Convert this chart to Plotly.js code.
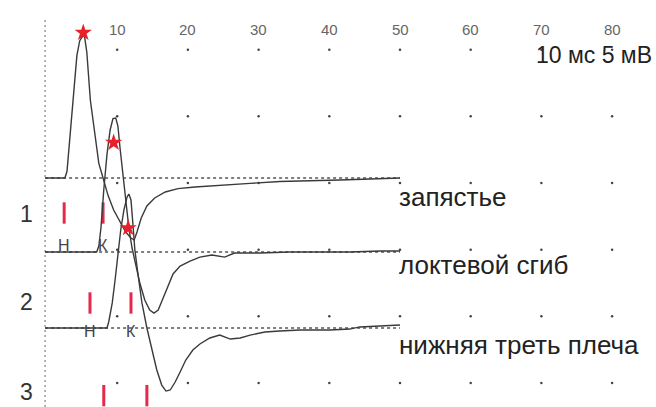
<!DOCTYPE html>
<html><head><meta charset="utf-8">
<script src="https://cdn.plot.ly/plotly-3.0.1.min.js"></script>
<style>html,body{margin:0;padding:0;background:#fff}#chart{width:656px;height:407px}</style>
</head><body><div id="chart"></div>
<script>
// time in ms, amplitude in mV relative to each trace's own baseline
const tWrist = [-0.2,2.6,2.9,3.3,3.7,4.3,4.7,5.2,5.4,5.7,6.2,6.9,7.4,8.0,8.7,9.5,10.4,11.2,11.95,12.4,12.8,13.4,14.2,15.3,16.8,18.6,21.0,24.5,28.8,33.0,37.3,41.5,45.8,50.0];
const aWrist = [0,0,0.5,3.0,5.85,9.2,10.3,10.7,10.55,9.45,5.85,2.85,1.1,0,-1.3,-2.4,-3.3,-4.05,-4.5,-4.65,-4.05,-3.0,-2.1,-1.5,-1.05,-0.8,-0.68,-0.53,-0.4,-0.26,-0.23,-0.15,-0.08,0];

const tElbow = [-0.2,7.1,7.4,7.7,8.1,8.55,9.0,9.4,9.8,10.1,10.4,10.8,11.25,11.65,12.1,12.5,13.2,13.9,14.6,15.2,15.8,16.5,17.2,17.9,18.9,20.3,21.7,23.4,25.2,26.6,30.2,34.4,38.7,42.9,47.2,50.0];
const aElbow = [0,0,0.45,1.8,4.65,7.3,9.15,10.0,10.05,9.45,7.8,5.78,3.68,1.8,0.3,-0.75,-2.33,-3.6,-4.35,-4.58,-4.35,-3.45,-2.48,-1.65,-1.05,-0.68,-0.38,-0.23,-0.38,-0.08,-0.08,0,0,0,0.08,0.08];

const tArm = [-0.2,8.55,8.8,9.3,9.7,10.1,10.5,10.95,11.4,11.65,11.95,12.2,12.5,12.9,13.5,14.2,14.9,15.6,16.3,16.9,17.5,18.2,18.9,19.7,20.7,21.7,23.1,24.5,26.0,27.4,28.8,30.9,33.0,35.9,40.1,42.9,44.3,47.2,50.0];
const aArm = [0,0,0.45,1.88,3.6,5.48,7.35,8.85,9.83,10.05,9.6,7.95,5.85,4.2,1.88,0,-1.65,-3.15,-4.28,-4.73,-4.65,-4.05,-3.3,-2.4,-1.65,-1.2,-0.75,-0.53,-0.83,-0.75,-0.53,-0.3,-0.23,-0.15,-0.15,-0.08,0.08,0.15,0.23];

const traceNames = ['запястье','локтевой сгиб','нижняя треть плеча'];
const rowLabels = ['1','2','3'];
const starTimes = [5.2, 9.5, 11.55];
const starAmps = [10.9, 8.2, 7.5];
const markerTimes = [[2.5, 8.0], [6.15, 11.95], [8.1, 14.2]];
const markerLetters = ['Н','К'];
const tickVals = [10,20,30,40,50,60,70,80];
const tickText = ['10','20','30','40','50','60','70','80'];
const gridRows = [1.8,6.8,11.8,16.8,21.8,26.8];
const scaleText = '10 мс 5 мВ';

// layout helpers (general frame axis y, trace axes y2..y4)
const rowLevels = [14.55, 7.8, 0.85];
const labelLevels = [14.45, 7.85, 1.1];
const letterLevels = [12.15, 5.7];
const axes = ['y2','y3','y4'];
const series = [[tWrist,aWrist],[tElbow,aElbow],[tArm,aArm]];
const red = '#e6284a';
const font = 'Liberation Sans, Arial, sans-serif';

const data = [];
// grid dots
const gx=[], gy=[];
gridRows.forEach(r=>tickVals.forEach(v=>{gx.push(v);gy.push(r);}));
data.push({x:gx,y:gy,mode:'markers',marker:{size:2.5,color:'#444'},yaxis:'y',hoverinfo:'skip'});
// left dotted vertical
data.push({x:[-0.2,-0.2],y:[0,29.25],mode:'lines',line:{color:'#999',width:1.5,dash:'2px,3px'},yaxis:'y'});
// baselines and traces
series.forEach((s,i)=>{
  data.push({x:[s[0][0], s[0][s[0].length-1]],y:[0,0],mode:'lines',line:{color:'#555',width:1.3,dash:'3px,3px'},yaxis:axes[i]});
  data.push({x:s[0],y:s[1],mode:'lines',line:{color:'#3a3a3a',width:1.4},yaxis:axes[i],name:traceNames[i]});
  data.push({x:[starTimes[i]],y:[starAmps[i]],mode:'markers',marker:{symbol:'star',size:13,color:'#e8202a'},yaxis:axes[i]});
  const mx=[], my=[];
  markerTimes[i].forEach(t=>{mx.push(t,t,null);my.push(rowLevels[i]-0.8,rowLevels[i]+0.8,null);});
  data.push({x:mx,y:my,mode:'lines',line:{color:red,width:3},yaxis:'y'});
});

const ann = [];
tickVals.forEach((v,i)=>ann.push({x:v,y:28.35,xref:'x',yref:'y',text:tickText[i],showarrow:false,font:{family:font,size:15,color:'#666'}}));
rowLabels.forEach((t,i)=>ann.push({x:-2.76,y:labelLevels[i],xref:'x',yref:'y',text:t,showarrow:false,font:{family:font,size:23,color:'#333'}}));
const labelAmps = [-1.4,-1.0,-1.3];
traceNames.forEach((t,i)=>ann.push({x:49.6,y:labelAmps[i],xref:'x',yref:axes[i],text:t,showarrow:false,xanchor:'left',font:{family:font,size:26,color:'#222'}}));
letterLevels.forEach((lv,i)=>markerTimes[i].forEach((t,j)=>ann.push({x:t,y:lv,xref:'x',yref:'y',text:markerLetters[j],showarrow:false,font:{family:font,size:16,color:'#444'}})));
ann.push({x:77.4,y:26.4,xref:'x',yref:'y',text:scaleText,showarrow:false,font:{family:font,size:23,color:'#222'}});

const hidden = {showgrid:false,zeroline:false,showticklabels:false,ticks:'',showline:false,fixedrange:true};
const layout = {
  width:656,height:407,margin:{l:0,r:0,t:0,b:0},paper_bgcolor:'#fff',plot_bgcolor:'#fff',showlegend:false,
  xaxis:Object.assign({range:[-6.577,86.21]},hidden),
  yaxis:Object.assign({range:[0,30.525]},hidden),
  yaxis2:Object.assign({range:[-17.175,13.35],overlaying:'y'},hidden),
  yaxis3:Object.assign({range:[-11.625,18.9],overlaying:'y'},hidden),
  yaxis4:Object.assign({range:[-5.925,24.6],overlaying:'y'},hidden),
  annotations:ann
};
Plotly.newPlot('chart',data,layout,{staticPlot:true});
</script></body></html>
